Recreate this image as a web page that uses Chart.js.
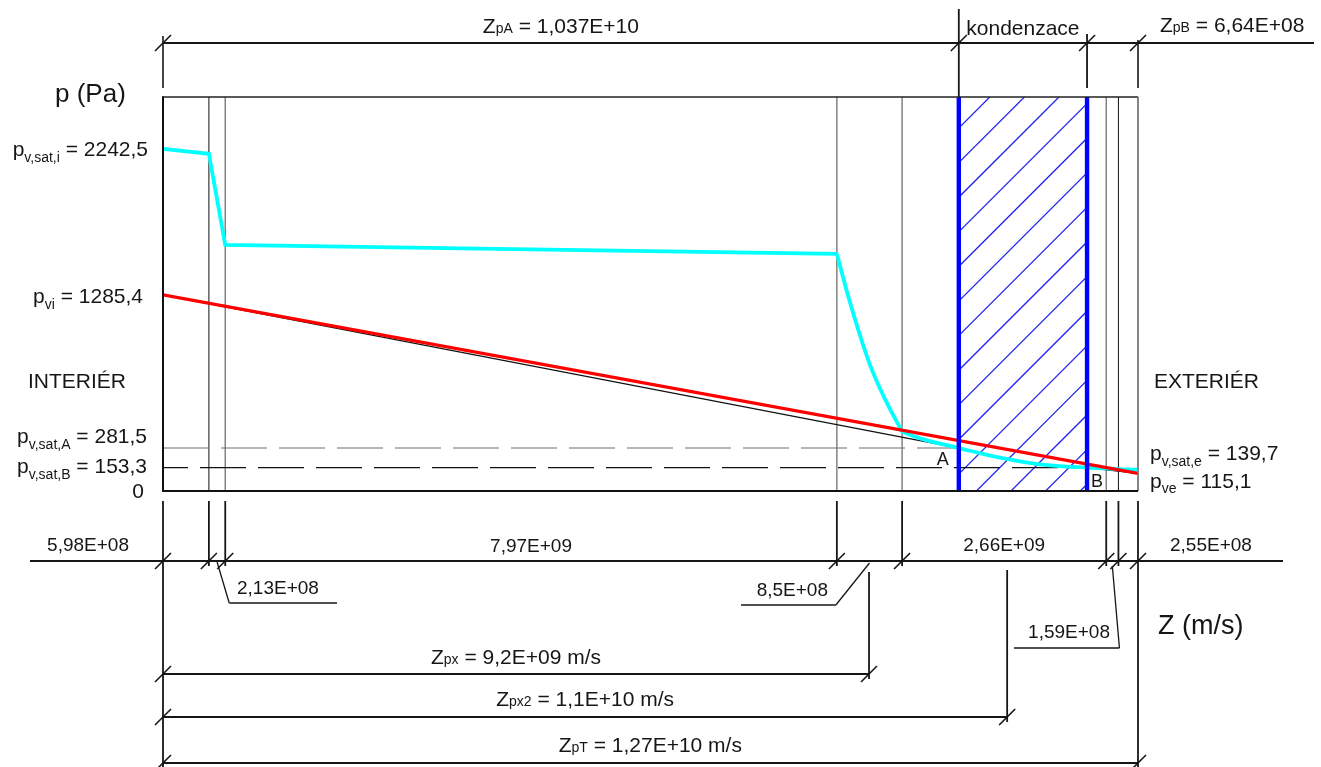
<!DOCTYPE html>
<html>
<head>
<meta charset="utf-8">
<script src="https://cdn.jsdelivr.net/npm/chart.js@4.4.1/dist/chart.umd.min.js"></script>
<style>
  html, body { margin: 0; padding: 0; background: #fff; overflow: hidden; }
  canvas { display: block; }
</style>
</head>
<body>
<canvas id="chart" width="1321" height="767"></canvas>
<script>
// Diffusion resistance of the layers, interior -> exterior (m/s)
const layerResistance = [5.98e8, 2.13e8, 7.97e9, 8.5e8, 2.66e9, 1.59e8, 2.55e8];

// Boundary conditions and characteristic pressures (Pa)
const p_vi = 1285.4;
const p_ve = 115.1;
const p_sat_i = 2242.5;
const p_sat_e = 139.7;
const p_sat_A = 281.5;
const p_sat_B = 153.3;

// Resistances of the condensation zone limits and reference sections (m/s)
const Z_pA = 1.037e10;
const Z_pB = 6.64e8;
const Z_px = 9.2e9;
const Z_px2 = 1.1e10;
const Z_pT = 1.27e10;

// Upper limit of the pressure axis (Pa)
const pAxisMax = 2582;

// Saturation vapour pressure through the construction
const satZ = [0, 5.98e8, 8.11e8, 8.781e9, 8.93e9, 9.07e9, 9.21e9, 9.41e9, 9.631e9,
              9.865e9, 1.037e10, 1.0907e10, 1.1428e10, 1.2041e10, 1.2291e10, 1.245e10, 1.2705e10];
const satP = [2242.5, 2210, 1613, 1554, 1274, 1040, 830, 600, 389,
              345, 281.5, 218, 175, 153.3, 148, 143, 139.7];
// indices where the curve breaks at a layer interface
const satBreaks = [3, 8];

// Cumulative resistance at the layer boundaries
const zBounds = layerResistance.reduce((acc, r) => { acc.push(acc[acc.length - 1] + r); return acc; }, [0]);
const zTotal = zBounds[zBounds.length - 1];
const zB = zTotal - Z_pB;

// Partial vapour pressure without condensation
const pvZ = [0, zTotal];
const pvP = [p_vi, p_ve];

// Partial vapour pressure with the condensation zone A-B
const condInZ = [0, Z_pA];
const condInP = [p_vi, p_sat_A];
const condOutZ = [zB, zTotal];
const condOutP = [p_sat_B, p_ve];

// ---------------------------------------------------------------
const FONT = '"Liberation Sans", Arial, Helvetica, sans-serif';
const INK = '#161616';

function fmtNum(v) { return String(v).replace('.', ','); }
function fmtE(v) {
  const e = Math.floor(Math.log10(v));
  let m = (v / Math.pow(10, e)).toPrecision(4);
  m = m.replace(/0+$/, '').replace(/\.$/, '');
  return m.replace('.', ',') + 'E+' + String(e).padStart(2, '0');
}

const big = (t, s = 21) => ({ t, size: s, dy: 0 });
const low = (t, s = 14, dy = 6) => ({ t, size: s, dy });

function richWidth(ctx, parts) {
  let w = 0;
  for (const p of parts) { ctx.font = p.size + 'px ' + FONT; w += ctx.measureText(p.t).width; }
  return w;
}
function drawRich(ctx, x, y, parts, align = 'left') {
  const w = richWidth(ctx, parts);
  let cx = align === 'center' ? x - w / 2 : align === 'right' ? x - w : x;
  ctx.textAlign = 'left';
  ctx.textBaseline = 'alphabetic';
  ctx.fillStyle = INK;
  for (const p of parts) {
    ctx.font = p.size + 'px ' + FONT;
    ctx.fillText(p.t, cx, y + p.dy);
    cx += ctx.measureText(p.t).width;
  }
}
function seg(ctx, x1, y1, x2, y2, w = 1.6, color = INK, dash = null, offset = 0) {
  ctx.save();
  ctx.beginPath();
  ctx.strokeStyle = color;
  ctx.lineWidth = w;
  ctx.lineCap = 'butt';
  if (dash) { ctx.setLineDash(dash); ctx.lineDashOffset = offset; }
  ctx.moveTo(x1, y1);
  ctx.lineTo(x2, y2);
  ctx.stroke();
  ctx.restore();
}
function tick(ctx, x, y) { seg(ctx, x - 8, y + 8, x + 8, y - 8, 1.6); }

const diagramPlugin = {
  id: 'diagram',
  beforeDatasetsDraw(chart) {
    const { ctx, chartArea: a } = chart;
    const X = v => chart.scales.x.getPixelForValue(v);
    const Y = v => chart.scales.y.getPixelForValue(v);
    const xA = X(Z_pA), xB = X(zB);

    // hatching of the condensation zone
    ctx.save();
    ctx.beginPath();
    ctx.rect(xA, a.top, xB - xA, a.bottom - a.top);
    ctx.clip();
    ctx.strokeStyle = '#2424f2';
    ctx.lineWidth = 1.3;
    const c0 = xA + 31 + a.top;
    for (let k = -3; k < 40; k++) {
      const c = c0 + k * 34.6;
      ctx.beginPath();
      ctx.moveTo(c - a.bottom, a.bottom);
      ctx.lineTo(c - a.top, a.top);
      ctx.stroke();
    }
    ctx.restore();

    // layer interfaces
    const interfaceColor = ['#111', '#111', '#7a7a7a', '#7a7a7a', '#7a7a7a', '#7a7a7a', '#111', '#7a7a7a'];
    zBounds.forEach((z, i) => {
      if (i === 0) return;
      seg(ctx, X(z), a.top, X(z), a.bottom, i === 1 || i === 6 ? 1 : 1.4, interfaceColor[i]);
    });

    // saturation pressures at the zone limits
    seg(ctx, a.left, Y(p_sat_A), xA, Y(p_sat_A), 1.1, '#6e6e6e', [46, 12], 0);
    seg(ctx, a.left, Y(p_sat_B), xB, Y(p_sat_B), 1.1, '#111', [46, 12], 21);
  },
  afterDatasetsDraw(chart) {
    const { ctx, chartArea: a } = chart;
    const X = v => chart.scales.x.getPixelForValue(v);
    const Y = v => chart.scales.y.getPixelForValue(v);
    const xL = X(0), xR = X(zTotal), xA = X(Z_pA), xB = X(zB);

    // condensation zone limits
    seg(ctx, xA, a.top, xA, a.bottom, 4.4, '#0000ff');
    seg(ctx, xB, a.top, xB, a.bottom, 4.4, '#0000ff');

    // frame
    seg(ctx, xL, a.top, xR, a.top, 1.6, '#222');
    seg(ctx, xR, a.top, xR, a.bottom, 1.4, '#7a7a7a');
    seg(ctx, xL, a.top - 0.8, xL, a.bottom + 1, 2, '#111');
    seg(ctx, xL, a.bottom, xR, a.bottom, 2, '#111');

    // zone marks
    drawRich(ctx, X(Z_pA) - 22, Y(p_sat_A) + 17, [big('A', 18)]);
    drawRich(ctx, X(zB) + 4, a.bottom - 4, [big('B', 18)]);

    // pressure labels
    drawRich(ctx, 55, 102, [big('p (Pa)', 26)]);
    drawRich(ctx, 148, Y(p_sat_i) + 7, [big('p'), low('v,sat,i'), big(' = ' + fmtNum(p_sat_i))], 'right');
    drawRich(ctx, 143, Y(p_vi) + 8, [big('p'), low('vi'), big(' = ' + fmtNum(p_vi))], 'right');
    drawRich(ctx, 28, 388, [big('INTERIÉR')]);
    drawRich(ctx, 147, Y(p_sat_A) - 5, [big('p'), low('v,sat,A'), big(' = ' + fmtNum(p_sat_A))], 'right');
    drawRich(ctx, 147, Y(p_sat_B) + 5, [big('p'), low('v,sat,B'), big(' = ' + fmtNum(p_sat_B))], 'right');
    drawRich(ctx, 144, Y(0) + 7, [big('0')], 'right');
    drawRich(ctx, 1154, 388, [big('EXTERIÉR')]);
    drawRich(ctx, xR + 12, 460, [big('p'), low('v,sat,e'), big(' = ' + fmtNum(p_sat_e))]);
    drawRich(ctx, xR + 12, 488, [big('p'), low('ve', 14, 5), big(' = ' + fmtNum(p_ve))]);

    // ---- upper dimension chain
    const yTop = 43;
    seg(ctx, xL, yTop, 1314, yTop, 2);
    seg(ctx, xL, 36, xL, 88, 1.6);
    seg(ctx, xA, 9, xA, a.top, 1.8);
    seg(ctx, xB, 34, xB, 88, 1.8);
    seg(ctx, xR, 40, xR, 88, 1.6);
    [xL, xA, xB, xR].forEach(x => tick(ctx, x, yTop));
    drawRich(ctx, (xL + xA) / 2, 33, [big('Z'), big('pA', 14), big(' = ' + fmtE(Z_pA))], 'center');
    drawRich(ctx, (xA + xB) / 2, 35, [big('kondenzace')], 'center');
    drawRich(ctx, xR + 22, 32, [big('Z'), big('pB', 14), big(' = ' + fmtE(Z_pB))]);

    // ---- lower dimension chain of the layers
    const yDim = 561;
    seg(ctx, 30, yDim, 1283, yDim, 2);
    const bx = zBounds.map(X);
    bx.forEach((x, i) => {
      const outer = i === 0 || i === bx.length - 1;
      seg(ctx, x, 501, x, outer ? 767 : 566, 1.8);
      tick(ctx, x, yDim);
    });
    const labels = layerResistance.map(fmtE);
    const mid = i => (bx[i] + bx[i + 1]) / 2;
    drawRich(ctx, bx[0] - 34, 551, [big(labels[0], 19)], 'right');
    drawRich(ctx, mid(2), 552, [big(labels[2], 19)], 'center');
    drawRich(ctx, mid(4), 551, [big(labels[4], 19)], 'center');
    drawRich(ctx, bx[7] + 32, 551, [big(labels[6], 19)]);

    // leaders for the thin layers
    seg(ctx, mid(1), 562, bx[2] + 4, 603, 1.3);
    seg(ctx, bx[2] + 4, 603, 337, 603, 1.3);
    drawRich(ctx, 237, 594, [big(labels[1], 19)]);

    seg(ctx, mid(3), 563, bx[3] - 1, 605, 1.3);
    seg(ctx, bx[3] - 1, 605, 741, 605, 1.3);
    drawRich(ctx, 828, 596, [big(labels[3], 19)], 'right');

    seg(ctx, mid(5), 566, bx[6] + 1, 648, 1.3);
    seg(ctx, bx[6] + 1, 648, 1014, 648, 1.3);
    drawRich(ctx, 1110, 638, [big(labels[5], 19)], 'right');

    drawRich(ctx, 1158, 634, [big('Z (m/s)', 27)]);

    // ---- reference sections
    const xPx = X(Z_px), xPx2 = X(Z_px2), xPt = X(Z_pT);
    const yPx = 674, yPx2 = 717, yPt = 763;
    seg(ctx, xPx, 572, xPx, yPx + 5, 1.8);
    seg(ctx, xL, yPx, xPx, yPx, 2);
    tick(ctx, xL, yPx); tick(ctx, xPx, yPx);
    drawRich(ctx, (xL + xPx) / 2, 664, [big('Z'), big('px', 14), big(' = ' + fmtE(Z_px) + ' m/s')], 'center');

    seg(ctx, xPx2, 570, xPx2, yPx2 + 5, 1.8);
    seg(ctx, xL, yPx2, xPx2, yPx2, 2);
    tick(ctx, xL, yPx2); tick(ctx, xPx2, yPx2);
    drawRich(ctx, (xL + xPx2) / 2, 706, [big('Z'), big('px2', 14), big(' = ' + fmtE(Z_px2) + ' m/s')], 'center');

    seg(ctx, xL, yPt, xPt, yPt, 2);
    tick(ctx, xL, yPt); tick(ctx, xR, yPt);
    drawRich(ctx, (xL + xPt) / 2, 752, [big('Z'), big('pT', 14), big(' = ' + fmtE(Z_pT) + ' m/s')], 'center');
  }
};

const toXY = (xs, ys) => xs.map((x, i) => ({ x, y: ys[i] }));

// saturation curve split at the interfaces where it breaks
const satPieces = [0, ...satBreaks, satZ.length - 1].slice(0, -1).map((start, k, arr) => {
  const end = k + 1 < arr.length ? arr[k + 1] : satZ.length - 1;
  return toXY(satZ.slice(start, end + 1), satP.slice(start, end + 1));
});
const satStyle = { showLine: true, borderColor: '#00ffff', borderWidth: 3.8, pointRadius: 0, clip: false };

new Chart(document.getElementById('chart'), {
  type: 'scatter',
  data: {
    datasets: [
      { label: 'p_v', data: toXY(pvZ, pvP), showLine: true, borderColor: '#ff0000', borderWidth: 3.2, pointRadius: 0 },
      { label: 'p_v,sat', data: satPieces[0], ...satStyle, tension: 0 },
      { label: 'p_v,sat', data: satPieces[1], ...satStyle, cubicInterpolationMode: 'monotone' },
      { label: 'p_v,sat', data: satPieces[2], ...satStyle, cubicInterpolationMode: 'monotone' },
      { label: 'p_v A', data: toXY(condInZ, condInP), showLine: true, borderColor: '#111', borderWidth: 1.3, pointRadius: 0 },
      { label: 'p_v B', data: toXY(condOutZ, condOutP), showLine: true, borderColor: '#111', borderWidth: 1.3, pointRadius: 0 }
    ]
  },
  options: {
    responsive: false,
    animation: false,
    events: [],
    layout: { padding: { left: 163, right: 183, top: 97, bottom: 276 } },
    scales: {
      x: { type: 'linear', min: 0, max: zTotal, display: false },
      y: { type: 'linear', min: 0, max: pAxisMax, display: false }
    },
    plugins: { legend: { display: false }, tooltip: { enabled: false } }
  },
  plugins: [diagramPlugin]
});
</script>
</body>
</html>
